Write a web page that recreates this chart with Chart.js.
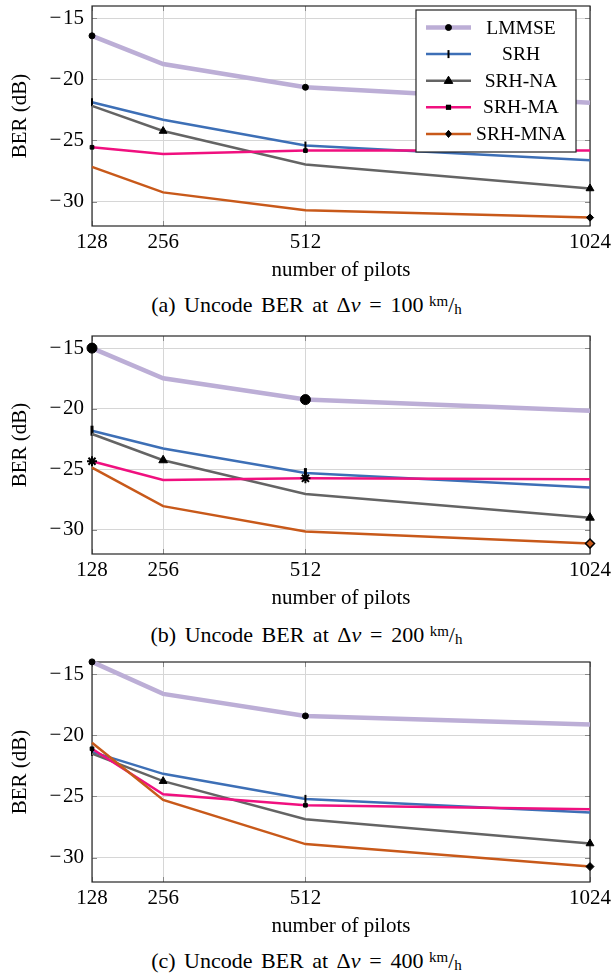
<!DOCTYPE html>
<html><head><meta charset="utf-8">
<script src="https://cdn.jsdelivr.net/npm/chart.js@4.4.0/dist/chart.umd.min.js"></script>
<style>
body{margin:0;background:#fff;width:613px;height:973px;position:relative;overflow:hidden;font-family:"Liberation Serif","Times New Roman",serif;}
canvas{position:absolute;left:0;}
.cap{position:absolute;left:0;width:613px;text-align:center;font-size:22px;line-height:24px;color:#000;white-space:nowrap;word-spacing:3px;}
.cap .eq{margin:0 0.4em;}
.cap .u{margin-left:0.25em;}
.cap sup{font-size:15px;vertical-align:6px;}
.cap sub{font-size:15px;vertical-align:-2px;}
</style></head><body>
<canvas id="ca" width="613" height="285" style="top:0px"></canvas>
<canvas id="cb" width="613" height="285" style="top:328px"></canvas>
<canvas id="cc" width="613" height="285" style="top:656px"></canvas>
<div class="cap" style="top:289px">(a) Uncode BER at Δ<i>v</i><span class="eq">=</span>100<span class="u"><sup>km</sup>/<sub>h</sub></span></div>
<div class="cap" style="top:619px">(b) Uncode BER at Δ<i>v</i><span class="eq">=</span>200<span class="u"><sup>km</sup>/<sub>h</sub></span></div>
<div class="cap" style="top:945px">(c) Uncode BER at Δ<i>v</i><span class="eq">=</span>400<span class="u"><sup>km</sup>/<sub>h</sub></span></div>
<script>
// ---- data ----
const pilots = [128, 256, 512, 1024];
const xTicks = [128, 256, 512, 1024];
const yTicks = [-15, -20, -25, -30];
const seriesNames = ['LMMSE', 'SRH', 'SRH-NA', 'SRH-MA', 'SRH-MNA'];

// (a) Δv = 100 km/h
const lmmseA  = [-16.44, -18.75, -20.65, -21.92];
const srhA    = [-21.87, -23.30, -25.42, -26.62];
const srhNaA  = [-22.17, -24.23, -26.97, -28.93];
const srhMaA  = [-25.56, -26.10, -25.83, -25.83];
const srhMnaA = [-27.16, -29.25, -30.72, -31.31];
// (b) Δv = 200 km/h
const lmmseB  = [-15.00, -17.49, -19.25, -20.17];
const srhB    = [-21.82, -23.29, -25.32, -26.51];
const srhNaB  = [-22.09, -24.26, -27.05, -29.00];
const srhMaB  = [-24.34, -25.89, -25.75, -25.83];
const srhMnaB = [-24.86, -28.05, -30.14, -31.14];
// (c) Δv = 400 km/h
const lmmseC  = [-13.99, -16.61, -18.41, -19.12];
const srhC    = [-21.35, -23.15, -25.20, -26.32];
const srhNaC  = [-21.50, -23.75, -26.86, -28.85];
const srhMaC  = [-21.10, -24.82, -25.72, -26.04];
const srhMnaC = [-20.60, -25.28, -28.90, -30.74];

// ---- styles ----
const colors = ['#bcaed6', '#3d6fb6', '#646464', '#f0107f', '#c8591a'];
const widths = [4.5, 2.5, 2.5, 2.5, 2.5];
const FONT = {family: '"Liberation Serif","Times New Roman",serif', size: 21};

const marksA = [
  {style:'circle', r:3, idx:[0,2], fill:'#000'},
  {style:'line', r:4, rot:90, idx:[0,2], fill:'#000', bw:2},
  {style:'triangle', r:4.5, idx:[1,3], fill:'#000'},
  {style:'rect', r:2.6, idx:[0,2], fill:'#000'},
  {style:'rectRot', r:3.6, idx:[3], fill:'#000'}
];
const marksB = [
  {style:'circle', r:5, idx:[0,2], fill:'#000'},
  {style:'line', r:5, rot:90, idx:[0,2], fill:'#000', bw:3},
  {style:'triangle', r:5, idx:[1,3], fill:'#000'},
  {style:'star', r:5, idx:[0,2], fill:'#000', bw:2},
  {style:'rectRot', r:4.5, idx:[3], fill:'#c8591a', bw:1.5}
];
const marksC = [
  {style:'circle', r:3, idx:[0,2], fill:'#000'},
  {style:'line', r:4, rot:90, idx:[0,2], fill:'#000', bw:2},
  {style:'triangle', r:4.5, idx:[1,3], fill:'#000'},
  {style:'rect', r:2.6, idx:[0,2], fill:'#000'},
  {style:'rectRot', r:4, idx:[3], fill:'#000'}
];

function line(ctx,x1,y1,x2,y2){ctx.beginPath();ctx.moveTo(x1,y1);ctx.lineTo(x2,y2);ctx.stroke();}

const framePlugin = {
  id:'frame',
  beforeDatasetsDraw(chart){
    const {ctx, chartArea:a, scales:{x,y}} = chart;
    ctx.save();
    ctx.strokeStyle='#8a8a8a'; ctx.lineWidth=1;
    yTicks.forEach(v=>{const py=Math.round(y.getPixelForValue(v))+0.5; line(ctx,a.left,py,a.left+5,py); line(ctx,a.right-5,py,a.right,py);});
    xTicks.forEach(v=>{const px=Math.round(x.getPixelForValue(v))+0.5; line(ctx,px,a.bottom-5,px,a.bottom); line(ctx,px,a.top,px,a.top+5);});
    ctx.strokeStyle='#262626'; ctx.lineWidth=1.2;
    ctx.strokeRect(a.left, a.top, a.right-a.left, a.bottom-a.top);
    ctx.restore();
  }
};

function drawMark(ctx, m, x, y){
  ctx.save();
  ctx.fillStyle=m.fill; ctx.strokeStyle='#000'; ctx.lineWidth=m.bw||1;
  const r=m.r;
  ctx.beginPath();
  if(m.style==='circle'){ctx.arc(x,y,r,0,Math.PI*2);ctx.fill();ctx.stroke();}
  else if(m.style==='line'){line(ctx,x,y-r,x,y+r);}
  else if(m.style==='triangle'){ctx.moveTo(x,y-r);ctx.lineTo(x+r*0.95,y+r*0.6);ctx.lineTo(x-r*0.95,y+r*0.6);ctx.closePath();ctx.fill();ctx.stroke();}
  else if(m.style==='rect'){ctx.rect(x-r,y-r,2*r,2*r);ctx.fill();}
  else if(m.style==='rectRot'){ctx.moveTo(x,y-r);ctx.lineTo(x+r*0.8,y);ctx.lineTo(x,y+r);ctx.lineTo(x-r*0.8,y);ctx.closePath();ctx.fill();ctx.stroke();}
  ctx.restore();
}

const legendPlugin = {
  id:'boxLegend',
  afterDraw(chart){
    const ctx=chart.ctx;
    const L=416, T=10, W=160, H=142;
    ctx.save();
    ctx.fillStyle='#fff'; ctx.fillRect(L,T,W,H);
    ctx.strokeStyle='#222'; ctx.lineWidth=1.2; ctx.strokeRect(L,T,W,H);
    ctx.font='19.5px "Liberation Serif","Times New Roman",serif';
    ctx.textAlign='center'; ctx.textBaseline='middle'; ctx.fillStyle='#000';
    seriesNames.forEach((n,i)=>{
      const yy=T+17.5+i*26.6;
      ctx.strokeStyle=colors[i]; ctx.lineWidth=widths[i];
      line(ctx,426,yy,471,yy);
      drawMark(ctx, marksA[i], 448.5, yy);
      ctx.fillStyle='#000';
      ctx.fillText(n, 521, yy+1);
    });
    ctx.restore();
  }
};

function makeChart(id, series, marks, withLegend){
  const datasets = series.map((vals,i)=>{
    const m = marks[i];
    return {
      label: seriesNames[i],
      data: pilots.map((p,k)=>({x:p, y:vals[k]})),
      borderColor: colors[i],
      backgroundColor: colors[i],
      borderWidth: widths[i],
      tension: 0,
      order: 5-i,
      clip: false,
      pointStyle: m.style,
      pointRotation: m.rot||0,
      pointRadius: pilots.map((p,k)=> m.idx.includes(k) ? m.r : 0),
      pointHoverRadius: 0,
      pointBackgroundColor: m.fill,
      pointBorderColor: '#000',
      pointBorderWidth: m.bw||1
    };
  });
  return new Chart(document.getElementById(id), {
    type:'line',
    data:{datasets},
    plugins: withLegend ? [framePlugin, legendPlugin] : [framePlugin],
    options:{
      responsive:false, animation:false,
      layout:{padding:{top:5, right:23, bottom:0, left:0}},
      plugins:{legend:{display:false}, tooltip:{enabled:false}},
      scales:{
        x:{type:'linear', min:128, max:1024,
          afterBuildTicks:s=>{s.ticks=xTicks.map(v=>({value:v}));},
          afterFit:s=>{s.height=59; s.paddingLeft=0; s.paddingRight=0;},
          ticks:{font:FONT, color:'#000', padding:4, maxRotation:0, autoSkip:false, callback:v=>String(v)},
          grid:{color:'#d6d6d6', lineWidth:1, drawTicks:false},
          border:{display:false},
          title:{display:true, text:'number of pilots', font:FONT, color:'#000', padding:{top:0,bottom:2}}
        },
        y:{type:'linear', min:-32, max:-14,
          afterBuildTicks:s=>{s.ticks=yTicks.map(v=>({value:v}));},
          afterFit:s=>{s.width=92; s.paddingTop=0; s.paddingBottom=0;},
          ticks:{font:FONT, color:'#000', padding:8, autoSkip:false, callback:v=>'\u2212\u200A'+Math.abs(v)},
          grid:{color:'#d6d6d6', lineWidth:1, drawTicks:false},
          border:{display:false},
          title:{display:true, text:'BER (dB)', font:FONT, color:'#000', padding:{top:7.5,bottom:0}}
        }
      }
    }
  });
}

makeChart('ca', [lmmseA, srhA, srhNaA, srhMaA, srhMnaA], marksA, true);
makeChart('cb', [lmmseB, srhB, srhNaB, srhMaB, srhMnaB], marksB, false);
makeChart('cc', [lmmseC, srhC, srhNaC, srhMaC, srhMnaC], marksC, false);
</script>
</body></html>
